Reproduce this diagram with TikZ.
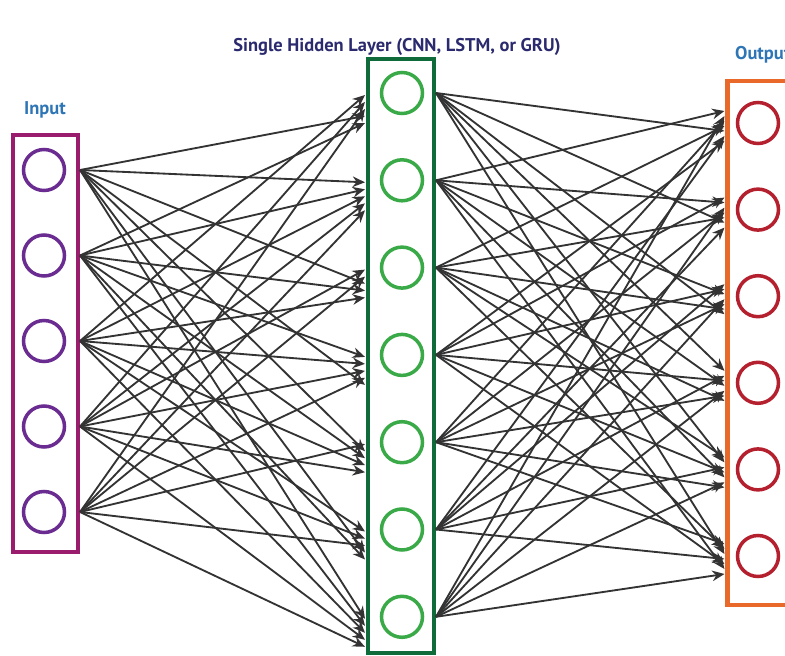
\documentclass[tikz,border=0pt]{standalone}
\usepackage{fontspec}
\setsansfont{PT Sans}
\usetikzlibrary{arrows.meta,calc}

\definecolor{inFrame}{HTML}{9A1C6C}
\definecolor{inRing}{HTML}{6A2C91}
\definecolor{hidFrame}{HTML}{0F6B3A}
\definecolor{hidRing}{HTML}{3AAA48}
\definecolor{outFrame}{HTML}{E8692A}
\definecolor{outRing}{HTML}{B5202E}
\definecolor{linkGray}{HTML}{333333}
\definecolor{labelBlue}{HTML}{2E75B6}
\definecolor{titleNavy}{HTML}{2B2A6E}

\begin{document}
\begin{tikzpicture}[x=0.02cm, y=-0.02cm,
    neuron/.style={circle, line width=2pt, minimum size=0.82cm, inner sep=0pt},
    layerbox/.style={rectangle, line width=2.3pt, inner sep=0pt},
    link/.style={-{Stealth[length=7pt,width=6pt]}, line width=1.05pt, draw=linkGray},
    caption/.style={font=\sffamily\bfseries\fontsize{10.5}{12}\selectfont}]
    % Globals
    \pgfmathsetmacro{\inStep}{85.5}
    \pgfmathsetmacro{\hidStep}{87.3}
    \pgfmathsetmacro{\outStep}{86.6}

    \useasboundingbox (0,0) rectangle (785,656);
    \clip (0,0) rectangle (785,656);

    % layer frames
    \node[layerbox, draw=inFrame, minimum width=1.3cm, minimum height=8.34cm] (inBox) at (45.5,343.5) {};
    \node[layerbox, draw=hidFrame, minimum width=1.32cm, minimum height=11.88cm] (hidBox) at (401,356) {};
    \node[layerbox, draw=outFrame, minimum width=1.5cm, minimum height=10.48cm] (outBox) at (765,343) {};

    % neurons
    \foreach \i in {1,...,5}
        \node[neuron, draw=inRing] (in\i) at (44, {170+(\i-1)*\inStep}) {};
    \foreach \i in {1,...,7}
        \node[neuron, draw=hidRing] (hid\i) at (402, {93+(\i-1)*\hidStep}) {};
    \foreach \i in {1,...,6}
        \node[neuron, draw=outRing] (out\i) at (758, {123+(\i-1)*\outStep}) {};

    % input -> hidden
    \foreach \i in {1,...,5}
        \foreach \j in {1,...,7} {
            \pgfmathsetmacro{\off}{2+7*mod(\i+2*\j,5)}
            \draw[link] (inBox.east |- in\i) -- ($(hidBox.west |- hid\j)+(-1,\off)$);
        }

    % hidden -> output
    \foreach \i in {1,...,7}
        \foreach \j in {1,...,6} {
            \pgfmathsetmacro{\off}{-12+5*mod(3*\i+\j,7)}
            \draw[link] (hidBox.east |- hid\i) -- ($(outBox.west |- out\j)+(-1,\off)$);
        }

    % labels
    \node[caption, text=titleNavy] (title) at (397,47) {Single Hidden Layer (CNN, LSTM, or GRU)};
    \node[caption, text=labelBlue] (inLabel) at (45,110) {Input};
    \node[caption, text=labelBlue, anchor=west] (outLabel) at (729,55) {Output};

\end{tikzpicture}
\end{document}
